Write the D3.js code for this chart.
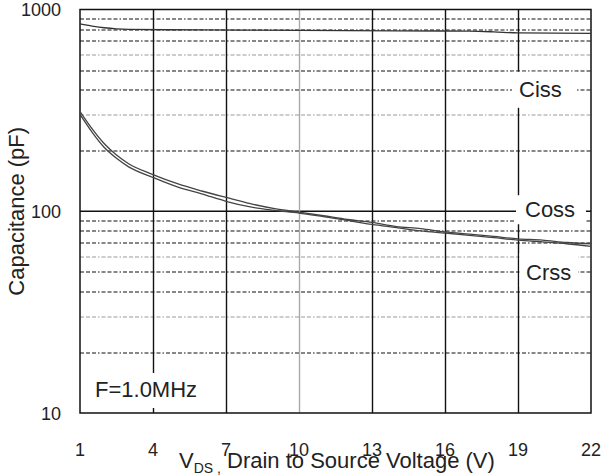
<!DOCTYPE html>
<html>
<head>
<meta charset="utf-8">
<script src="https://cdn.jsdelivr.net/npm/d3@7"></script>
<style>
  body { margin: 0; background: #fff; }
  text { font-family: "Liberation Sans", Arial, sans-serif; fill: #222; }
</style>
</head>
<body>
<div id="my_dataviz"></div>
<script>
// data (V in volts, C in pF)
var cissV = [1, 1.5, 2, 2.5, 3, 6, 10, 14, 17, 18, 19, 22];
var cissC = [848, 828, 812, 802, 797, 792, 788, 784, 781, 775, 766, 762];

var cossV = [1, 1.5, 2, 2.5, 3, 4, 5, 6, 7, 8, 9, 10, 11, 12, 13, 14, 15, 16, 17, 18, 19, 20, 21, 22];
var cossC = [312, 256, 216, 190, 172, 152, 137, 126, 117, 109, 103, 99, 95, 91, 88, 84, 82, 79, 77, 75, 73, 72, 70, 69];

var crssV = [1, 1.5, 2, 2.5, 3, 4, 5, 6, 7, 8, 9, 10, 11, 12, 13, 14, 15, 16, 17, 18, 19, 20, 21, 22];
var crssC = [302, 246, 207, 183, 166, 147, 132, 122, 112, 105, 101, 98, 94, 90, 86, 83, 80, 78, 76, 74, 72, 70.5, 69, 67];

var xTicks = [1, 4, 7, 10, 13, 16, 19, 22];
var yTicks = [10, 100, 1000];
var yMinor = [20, 30, 40, 50, 60, 70, 80, 90, 200, 300, 400, 500, 600, 700, 800, 900];
var yLight = [30, 60, 300, 600];

function drawCapChart(selector) {
  var W = 602, H = 476;
  var margin = {top: 9.5, right: 11, bottom: 63, left: 80};
  var width = W - margin.left - margin.right,
      height = H - margin.top - margin.bottom;

  var svg = d3.select(selector)
    .append("svg")
    .attr("width", W)
    .attr("height", H);

  var g = svg.append("g")
    .attr("transform", "translate(" + margin.left + "," + margin.top + ")");

  var x = d3.scaleLinear().domain([1, 22]).range([0, width]);
  var y = d3.scaleLog().domain([10, 1000]).range([height, 0]);

  // minor horizontal grid (dash-dot)
  g.selectAll(".minor")
    .data(yMinor)
    .enter().append("line")
    .attr("x1", 0).attr("x2", width)
    .attr("y1", d => Math.round(y(d)) + 0.5)
    .attr("y2", d => Math.round(y(d)) + 0.5)
    .attr("stroke", d => yLight.indexOf(d) >= 0 ? "#999" : "#111")
    .attr("stroke-width", 1.2)
    .attr("stroke-dasharray", "4,2,4,2,4,2,1.5,2");

  // major horizontal grid
  g.append("line")
    .attr("x1", 0).attr("x2", width)
    .attr("y1", y(100)).attr("y2", y(100))
    .attr("stroke", "#111").attr("stroke-width", 1.4);

  // vertical grid
  g.selectAll(".vgrid")
    .data(xTicks.slice(1, -1))
    .enter().append("line")
    .attr("x1", d => Math.round(x(d)) + 0.5)
    .attr("x2", d => Math.round(x(d)) + 0.5)
    .attr("y1", 0).attr("y2", height)
    .attr("stroke", d => d == 10 ? "#aaa" : "#111")
    .attr("stroke-width", 1.4);

  // white gaps behind the labels
  var gaps = [
    {x0: 19, dx0: -6, x1: 22, dx1: -14, y0: 400, dy0: -18, dy1: 18},
    {x0: 19, dx0: -2, x1: 22, dx1: -5, y0: 100, dy0: -16, dy1: 13},
    {x0: 19, dx0: 1.5, x1: 22, dx1: -13, y0: 50, dy0: -19, dy1: 15},
    {x0: 1, dx0: 10, x1: 4, dx1: 53, y0: 10, dy0: -40, dy1: -5}
  ];
  g.selectAll(".gap")
    .data(gaps)
    .enter().append("rect")
    .attr("x", d => x(d.x0) + d.dx0)
    .attr("y", d => y(d.y0) + d.dy0)
    .attr("width", d => x(d.x1) + d.dx1 - x(d.x0) - d.dx0)
    .attr("height", d => d.dy1 - d.dy0)
    .attr("fill", "#fff");

  // frame
  g.append("rect")
    .attr("x", 0).attr("y", 0)
    .attr("width", width).attr("height", height)
    .attr("fill", "none")
    .attr("stroke", "#111")
    .attr("stroke-width", 1.5);

  // curves
  var line = d3.line()
    .x(d => x(d[0]))
    .y(d => y(d[1]))
    .curve(d3.curveMonotoneX);

  var series = [
    {v: cissV, c: cissC, color: "#333"},
    {v: cossV, c: cossC, color: "#444"},
    {v: crssV, c: crssC, color: "#444"}
  ];
  series.forEach(function(s) {
    g.append("path")
      .datum(s.v.map((v, i) => [v, s.c[i]]))
      .attr("fill", "none")
      .attr("stroke", s.color)
      .attr("stroke-width", 1.3)
      .attr("d", line);
  });

  // axis tick labels
  g.selectAll(".ytick")
    .data(yTicks)
    .enter().append("text")
    .attr("x", -19)
    .attr("y", d => y(d) + 6.5)
    .attr("text-anchor", "end")
    .attr("font-size", 18)
    .text(d => d);

  g.selectAll(".xtick")
    .data(xTicks)
    .enter().append("text")
    .attr("x", d => x(d))
    .attr("y", height + 43)
    .attr("text-anchor", "middle")
    .attr("font-size", 18)
    .text(d => d);

  // curve labels
  var labels = [
    {t: "Ciss", v: 19, c: 400, dx: 1, dy: 7.5},
    {t: "Coss", v: 19, c: 100, dx: 7, dy: 6},
    {t: "Crss", v: 19, c: 50, dx: 8, dy: 8},
    {t: "F=1.0MHz", v: 1, c: 10, dx: 15, dy: -16}
  ];
  g.selectAll(".lbl")
    .data(labels)
    .enter().append("text")
    .attr("x", d => x(d.v) + d.dx)
    .attr("y", d => y(d.c) + d.dy)
    .attr("font-size", 22)
    .text(d => d.t);

  // axis titles
  svg.append("text")
    .attr("transform", "translate(24," + (margin.top + height / 2) + ") rotate(-90)")
    .attr("text-anchor", "middle")
    .attr("font-size", 22)
    .text("Capacitance (pF)");

  var xt = svg.append("text")
    .attr("x", 179)
    .attr("y", 468)
    .attr("font-size", 22);
  xt.append("tspan").text("V");
  xt.append("tspan").attr("font-size", 14).attr("dy", 5).text("DS ,");
  xt.append("tspan").attr("dy", -5).text(" Drain to Source Voltage (V)");
}

drawCapChart("#my_dataviz");
</script>
</body>
</html>
